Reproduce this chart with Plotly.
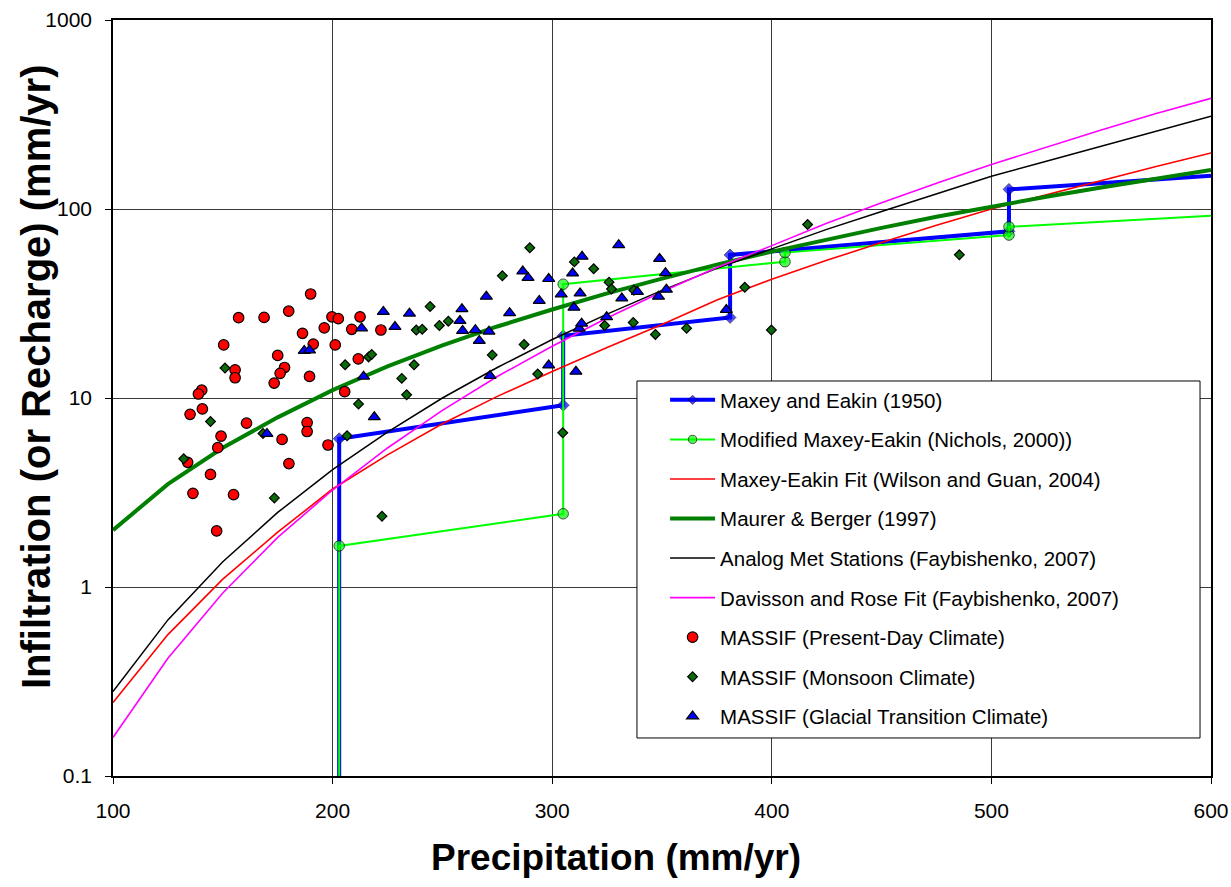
import plotly.graph_objects as go

# ---------------- data ----------------
curve_x = [100, 125, 150, 175, 200, 225, 250, 275, 300, 325, 350, 375, 400,
           425, 450, 475, 500, 525, 550, 575, 600]
wilson_guan = [0.245, 0.56, 1.1, 1.95, 3.3, 5.0, 7.3, 10.2, 13.8, 18.5, 24.5, 33, 42.5,
               53.5, 66.5, 82, 100, 119, 142, 168, 198]
maurer_berger = [2.0, 3.5, 5.45, 7.9, 11.0, 14.7, 19.0, 23.9, 29.4, 35.8, 42.8, 50.8, 59.5,
                 69, 79.5, 91, 103, 116, 130, 145, 161]
analog_met = [0.28, 0.67, 1.36, 2.48, 4.18, 6.6, 10.0, 14.5, 20.4, 27.8, 37.1, 48.5, 61.5,
              78, 97, 120, 149, 179, 215, 257, 310]
davisson_rose = [0.16, 0.42, 0.93, 1.83, 3.26, 5.44, 8.6, 13.0, 18.8, 26.5, 36.5, 49, 64,
                 84, 108, 137, 172, 213, 262, 320, 385]

maxey_x = [203, 203, 305, 305, 381, 381, 508, 508, 600]
maxey_y = [0.01, 6.09, 9.15, 21.35, 26.67, 57.15, 76.2, 127, 150]

mod_maxey_x = [203, 203, 305, 305, 406, 406, 508, 508, 600]
mod_maxey_y = [0.01, 1.65, 2.44, 40.0, 52.6, 58.8, 72.8, 80.5, 92.0]

present_x = [190.0, 157.2, 168.8, 180.0, 199.7, 202.6, 212.5, 186.3, 196.2, 208.7, 222.0,
             150.4, 191.2, 201.2, 175.0, 211.7, 155.6, 155.6, 178.1, 176.1, 189.5, 173.4,
             140.4, 138.9, 205.5, 135.1, 140.7, 160.8, 188.4, 188.4, 149.2, 147.7, 177.0,
             197.9, 134.0, 180.1, 144.4, 136.4, 154.9, 147.2]
present_y = [35.5, 26.6, 26.7, 28.8, 26.9, 26.3, 26.9, 22.0, 23.5, 23.1, 22.9,
             19.1, 19.3, 19.1, 16.8, 16.1, 14.1, 12.8, 14.5, 13.5, 13.0, 12.0,
             11.0, 10.5, 10.8, 8.2, 8.75, 7.36, 7.41, 6.65, 6.28, 5.46, 6.04,
             5.64, 4.57, 4.5, 3.94, 3.13, 3.08, 1.98]

monsoon_x = [132.2, 144.4, 151.0, 168.3, 173.5, 205.7, 206.6, 211.8, 216.4, 217.8, 222.5,
             231.5, 233.7, 237.1, 238.1, 240.8, 244.4, 248.6, 252.7, 272.7, 277.3, 287.2,
             289.8, 293.4, 310.1, 318.9, 323.9, 325.9, 327.0, 336.9, 337.2, 347.0, 361.2,
             387.7, 399.8, 416.3, 485.4, 304.8]
monsoon_y = [4.77, 7.51, 14.4, 6.49, 2.96, 15.0, 6.31, 9.29, 16.5, 17.0, 2.37,
             12.7, 10.4, 15.0, 22.9, 23.1, 30.5, 24.2, 25.5, 16.9, 44.3, 19.2,
             62.4, 13.4, 52.5, 48.3, 24.2, 41.0, 37.7, 25.1, 37.2, 21.7, 23.4,
             38.5, 22.9, 82.8, 57.2, 6.55]

glacial_x = [170.1, 187.1, 189.5, 213.2, 214.1, 219.0, 223.1, 228.4, 235.0, 258.0, 258.9,
             259.2, 265.0, 266.8, 270.0, 271.2, 271.7, 280.6, 286.6, 289.0, 294.1, 298.4,
             298.4, 304.1, 309.3, 309.9, 310.8, 312.3, 312.7, 313.4, 313.6, 324.8, 330.3,
             331.7, 338.8, 348.4, 348.9, 351.6, 352.0, 379.3]
glacial_y = [6.47, 17.8, 17.9, 23.4, 13.0, 7.93, 28.6, 23.8, 28.0, 25.6, 29.6,
             22.7, 22.9, 20.1, 34.4, 22.5, 13.1, 28.2, 46.8, 43.3, 32.7, 42.7,
             14.9, 35.4, 45.7, 30.1, 13.8, 23.3, 35.8, 24.8, 56.0, 26.8, 64.5,
             33.7, 36.5, 34.4, 54.6, 45.9, 37.5, 29.3]

x_ticks = [100, 200, 300, 400, 500, 600]
y_ticks = [0.1, 1, 10, 100, 1000]
y_tick_text = ["0.1", "1", "10", "100", "1000"]

x_title = "Precipitation (mm/yr)"
y_title = "Infiltration (or Recharge) (mm/yr)"

FONT = "Arial, Liberation Sans, sans-serif"

fig = go.Figure()

fig.add_trace(go.Scatter(
    x=maxey_x, y=maxey_y, mode="lines+markers", name="Maxey and Eakin (1950)",
    line=dict(color="#0000FF", width=4),
    marker=dict(symbol="diamond", size=[0, 9, 9, 9, 9, 9, 9, 9, 0], color="#0000FF",
                line=dict(color="#000033", width=1)),
    legendgroup="g1"))
fig.add_trace(go.Scatter(
    x=mod_maxey_x, y=mod_maxey_y, mode="lines+markers",
    name="Modified Maxey-Eakin (Nichols, 2000))",
    line=dict(color="#00FF00", width=2),
    marker=dict(symbol="circle", size=[0, 10.5, 10.5, 10.5, 10.5, 10.5, 10.5, 10.5, 0],
                color="#00FF00", line=dict(color="#000000", width=1)),
    legendgroup="g2"))
fig.add_trace(go.Scatter(
    x=curve_x, y=wilson_guan, mode="lines",
    name="Maxey-Eakin Fit (Wilson and Guan, 2004)",
    line=dict(color="#FF0000", width=1.6), legendgroup="g3"))
fig.add_trace(go.Scatter(
    x=curve_x, y=maurer_berger, mode="lines", name="Maurer &amp; Berger (1997)",
    line=dict(color="#008000", width=4), legendgroup="g4"))
fig.add_trace(go.Scatter(
    x=curve_x, y=analog_met, mode="lines",
    name="Analog Met Stations (Faybishenko, 2007)",
    line=dict(color="#000000", width=1.5), legendgroup="g5"))
fig.add_trace(go.Scatter(
    x=curve_x, y=davisson_rose, mode="lines",
    name="Davisson and Rose Fit (Faybishenko, 2007)",
    line=dict(color="#FF00FF", width=1.6), legendgroup="g6"))
fig.add_trace(go.Scatter(
    x=present_x, y=present_y, mode="markers", name="MASSIF (Present-Day Climate)",
    marker=dict(symbol="circle", size=10.5, color="#FF0000",
                line=dict(color="#000000", width=1.2)),
    legendgroup="g7"))
fig.add_trace(go.Scatter(
    x=monsoon_x, y=monsoon_y, mode="markers", name="MASSIF (Monsoon Climate)",
    marker=dict(symbol="diamond", size=7.5, color="#0B6B0B",
                line=dict(color="#000000", width=1.2)),
    legendgroup="g8"))
fig.add_trace(go.Scatter(
    x=glacial_x, y=glacial_y, mode="markers",
    name="MASSIF (Glacial Transition Climate)",
    marker=dict(symbol="triangle-up", size=10.5, color="#0000FF",
                line=dict(color="#000000", width=1.2)),
    legendgroup="g9"))

# legend frame
fig.add_shape(type="rect", xref="paper", yref="paper",
              x0=0.4772, x1=0.9900, y0=0.0503, y1=0.5225,
              line=dict(color="#000000", width=1), fillcolor="#FFFFFF", layer="above")

# axis titles (placed like in the reference)
fig.add_annotation(text=x_title, xref="paper", yref="paper",
                   x=0.458, y=-0.108, xanchor="center", yanchor="middle",
                   showarrow=False,
                   font=dict(family=FONT, size=37, color="#000000", weight="bold"))
fig.add_annotation(text=y_title, xref="paper", yref="paper",
                   x=-0.0701, y=0.5278, xanchor="center", yanchor="middle",
                   textangle=-90, showarrow=False,
                   font=dict(family=FONT, size=40, color="#000000", weight="bold"))

axis_common = dict(
    showline=True, linecolor="#000000", linewidth=1.5, mirror=True,
    showgrid=True, gridcolor="#3a3a3a", gridwidth=1,
    ticks="outside", ticklen=6, tickcolor="#000000", tickwidth=1,
    tickfont=dict(family=FONT, size=21, color="#000000"),
    zeroline=False,
)

fig.update_layout(
    width=1231, height=887,
    margin=dict(l=113, r=20, t=20, b=111, autoexpand=False),
    paper_bgcolor="#FFFFFF", plot_bgcolor="#FFFFFF",
    font=dict(family=FONT, color="#000000"),
    showlegend=True,
    legend=dict(
        x=0.5028, y=0.5238, xanchor="left", yanchor="top",
        bgcolor="rgba(0,0,0,0)", borderwidth=0,
        font=dict(family=FONT, size=20.5, color="#000000"),
        itemwidth=45, tracegroupgap=9.9, traceorder="grouped",
    ),
    xaxis=dict(
        range=[100, 600], tickvals=x_ticks, ticktext=[str(v) for v in x_ticks],
        ticklabelstandoff=9,
        **axis_common),
    yaxis=dict(
        type="log", range=[-1, 3], tickvals=y_ticks, ticktext=y_tick_text,
        ticklabelstandoff=9,
        **axis_common),
)

fig.write_html("out.html")
